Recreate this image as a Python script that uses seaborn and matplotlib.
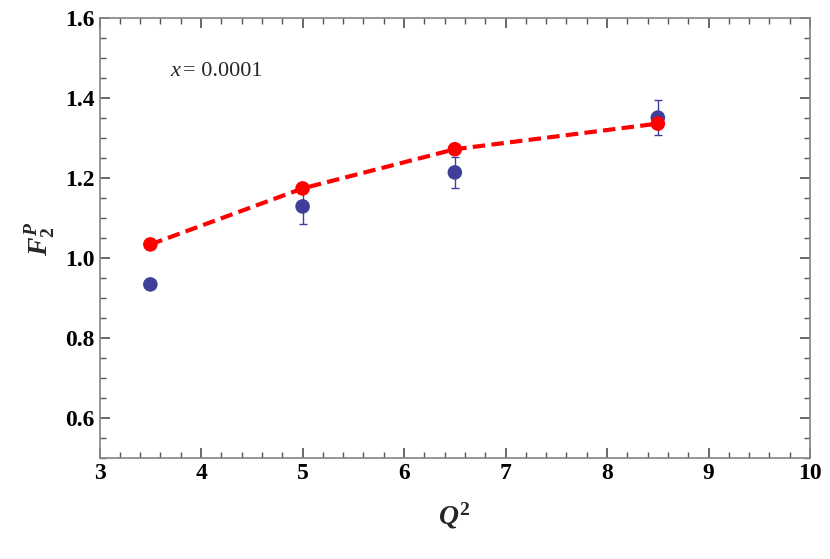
import matplotlib
matplotlib.use("Agg")
import matplotlib.pyplot as plt
import seaborn as sns
import pandas as pd
from matplotlib.ticker import MultipleLocator

q2 = [3.5, 5.0, 6.5, 8.5]
data_f2 = [0.935, 1.13, 1.215, 1.352]
data_err = [0.01, 0.045, 0.039, 0.044]
model_f2 = [1.035, 1.175, 1.273, 1.337]

sns.set_theme(style="ticks")
plt.rcParams['font.family'] = ['Liberation Serif', 'DejaVu Serif']
plt.rcParams['mathtext.fontset'] = 'custom'
plt.rcParams['mathtext.it'] = 'Liberation Serif:italic:bold'
plt.rcParams['mathtext.rm'] = 'Liberation Serif:bold'
plt.rcParams['mathtext.bf'] = 'Liberation Serif:bold'

df_d = pd.DataFrame({"Q2": q2, "F2": data_f2})
df_m = pd.DataFrame({"Q2": q2, "F2": model_f2})

fig = plt.figure(figsize=(8.3, 5.59), dpi=100)
ax = fig.add_axes([0.12, 0.18, 0.856, 0.787])
ax.errorbar(q2, data_f2, yerr=data_err, fmt='none', ecolor='#3f3f9a', elinewidth=1, capsize=3, zorder=2)
sns.scatterplot(data=df_d, x="Q2", y="F2", color='#3f3f9a', s=110, edgecolor='none', ax=ax, zorder=3)
sns.lineplot(data=df_m, x="Q2", y="F2", color='red', linewidth=3, ax=ax, zorder=4)
ax.lines[-1].set_linestyle((0, (3, 1.5)))
sns.scatterplot(data=df_m, x="Q2", y="F2", color='red', s=110, edgecolor='none', ax=ax, zorder=5)

ax.set_xlim(3, 10)
ax.set_ylim(0.5, 1.6)
ax.xaxis.set_major_locator(MultipleLocator(1))
ax.xaxis.set_minor_locator(MultipleLocator(0.2))
ax.yaxis.set_minor_locator(MultipleLocator(0.05))
ax.tick_params(which='both', direction='in', top=True, right=True, colors='#555555', labelcolor='black')
ax.tick_params(which='major', length=7, labelsize=17)
ax.tick_params(which='minor', length=4)
ax.set_yticks([0.6, 0.8, 1.0, 1.2, 1.4, 1.6])
ax.set_yticklabels(['0.6', '0.8', '1.0', '1.2', '1.4', '1.6'])
for lab in ax.get_xticklabels() + ax.get_yticklabels():
    lab.set_fontweight('bold')
for s in ax.spines.values():
    s.set_color('#888888')
ax.set_xlabel(r'$Q^2$', fontsize=20, labelpad=12)
ax.set_ylabel(r'$F_2^P$', fontsize=20, labelpad=6)
ax.text(0.1, 0.87, 'x', style='italic', transform=ax.transAxes, fontsize=16)
ax.text(0.118, 0.87, '= 0.0001', transform=ax.transAxes, fontsize=16)
ax.grid(False)
fig.savefig("out.png", dpi=100)
